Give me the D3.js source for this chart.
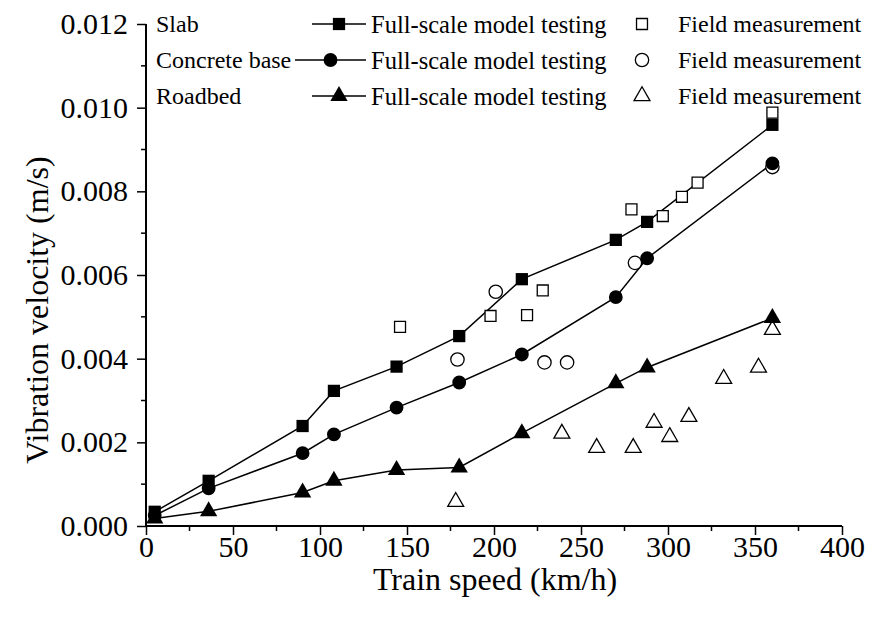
<!DOCTYPE html>
<html>
<head>
<meta charset="utf-8">
<script src="https://cdn.jsdelivr.net/npm/d3@7"></script>
<style>
  html, body { margin: 0; padding: 0; background: #fff; }
  svg { display: block; }
  text { font-family: "Liberation Serif", "Times New Roman", serif; fill: #000; }
</style>
</head>
<body>
<svg id="chart" width="882" height="625"></svg>
<script>
// Train speeds (km/h) of the full-scale model runs
const modelSpeed = [5, 36, 90, 108, 144, 180, 216, 270, 288, 360];

// Full-scale model testing, vibration velocity (m/s)
const slabModel     = [0.00034, 0.00108, 0.00239, 0.00323, 0.00381, 0.00454, 0.00590, 0.00684, 0.00727, 0.00959];
const concreteModel = [0.00025, 0.00090, 0.00174, 0.00219, 0.00283, 0.00343, 0.00410, 0.00547, 0.00640, 0.00867];
const roadbedModel  = [0.00018, 0.00035, 0.00080, 0.00108, 0.00134, 0.00140, 0.00222, 0.00341, 0.00379, 0.00497];

// Field measurements: speeds and velocities
const slabFieldSpeed     = [146, 198, 219, 228, 279, 297, 308, 317, 360];
const slabFieldValue     = [0.00476, 0.00502, 0.00504, 0.00563, 0.00757, 0.00741, 0.00787, 0.00821, 0.00988];
const concreteFieldSpeed = [179, 201, 229, 242, 281, 360];
const concreteFieldValue = [0.00398, 0.00560, 0.00391, 0.00391, 0.00629, 0.00858];
const roadbedFieldSpeed  = [178, 239, 259, 280, 292, 301, 312, 332, 352, 360];
const roadbedFieldValue  = [0.00058, 0.00221, 0.00187, 0.00187, 0.00247, 0.00213, 0.00261, 0.00352, 0.00379, 0.00469];

// Axis ticks
const xTicks = [0, 50, 100, 150, 200, 250, 300, 350, 400];
const yTicks = [0.000, 0.002, 0.004, 0.006, 0.008, 0.010, 0.012];

// Legend rows
const legendRows = ["Slab", "Concrete base", "Roadbed"];
const modelLabel = "Full-scale model testing";
const fieldLabel = "Field measurement";

const svg = d3.select("#chart");
const M = { left: 146, right: 842, top: 24, bottom: 526 };
const FONT = '"Liberation Serif", "Times New Roman", serif';

const x = d3.scaleLinear().domain([0, 400]).range([M.left, M.right]);
const y = d3.scaleLinear().domain([0, 0.012]).range([M.bottom, M.top]);

// ---- axes ----
const xMinor = d3.range(25, 400, 50);
const yMinor = d3.range(0.001, 0.012, 0.002);

const xAxis = svg.append("g").attr("transform", `translate(0,${M.bottom})`)
  .call(d3.axisBottom(x).tickValues(xTicks).tickFormat(d3.format("d")).tickSize(9).tickPadding(1));
xAxis.append("g").selectAll("line").data(xMinor).join("line")
  .attr("x1", d => x(d)).attr("x2", d => x(d)).attr("y1", 0).attr("y2", 5)
  .attr("stroke", "#000").attr("stroke-width", 1.5);

const yAxis = svg.append("g").attr("transform", `translate(${M.left},0)`)
  .call(d3.axisLeft(y).tickValues(yTicks).tickFormat(d3.format(".3f")).tickSize(9).tickPadding(9));
yAxis.append("g").selectAll("line").data(yMinor).join("line")
  .attr("y1", d => y(d)).attr("y2", d => y(d)).attr("x1", 0).attr("x2", -5)
  .attr("stroke", "#000").attr("stroke-width", 1.5);

[xAxis, yAxis].forEach(g => {
  g.attr("font-family", FONT);
  g.select(".domain").remove();
  g.selectAll(".tick line").attr("stroke", "#000").attr("stroke-width", 1.5);
  g.selectAll(".tick text").attr("font-size", 30);
});
// plain axis lines
svg.append("line").attr("x1", M.left).attr("x2", M.right).attr("y1", M.bottom).attr("y2", M.bottom)
  .attr("stroke", "#000").attr("stroke-width", 2);
svg.append("line").attr("x1", M.left).attr("x2", M.left).attr("y1", M.bottom).attr("y2", M.top)
  .attr("stroke", "#000").attr("stroke-width", 2);

// axis titles
svg.append("text").attr("x", (M.left + M.right) / 2 + 1).attr("y", 590)
  .attr("text-anchor", "middle").attr("font-size", 32).text("Train speed (km/h)");
svg.append("text").attr("transform", `translate(48,310) rotate(-90)`)
  .attr("text-anchor", "middle").attr("font-size", 32).text("Vibration velocity (m/s)");

// ---- markers ----
const symSquare = d3.symbol().type(d3.symbolSquare);
const symCircle = d3.symbol().type(d3.symbolCircle);
const symTri = d3.symbol().type(d3.symbolTriangle);

const line = d3.line().x(d => x(d[0])).y(d => y(d[1]));

const series = [
  { vals: slabModel, sym: symSquare, size: 150, fSpeed: slabFieldSpeed, fVal: slabFieldValue, fSize: 120 },
  { vals: concreteModel, sym: symCircle, size: 150, fSpeed: concreteFieldSpeed, fVal: concreteFieldValue, fSize: 140 },
  { vals: roadbedModel, sym: symTri, size: 130, fSpeed: roadbedFieldSpeed, fVal: roadbedFieldValue, fSize: 110 }
];

const plot = svg.append("g");
series.forEach(s => {
  const pts = modelSpeed.map((v, i) => [v, s.vals[i]]);
  plot.append("path").datum(pts).attr("d", line)
    .attr("fill", "none").attr("stroke", "#000").attr("stroke-width", 1.5);
});
series.forEach(s => {
  const fpts = s.fSpeed.map((v, i) => [v, s.fVal[i]]);
  plot.append("g").selectAll("path").data(fpts).join("path")
    .attr("d", s.sym.size(s.fSize))
    .attr("transform", d => `translate(${x(d[0])},${y(d[1])})`)
    .attr("fill", "#fff").attr("stroke", "#000").attr("stroke-width", 1.3);
});
series.forEach(s => {
  const pts = modelSpeed.map((v, i) => [v, s.vals[i]]);
  plot.append("g").selectAll("path").data(pts).join("path")
    .attr("d", s.sym.size(s.size))
    .attr("transform", d => `translate(${x(d[0])},${y(d[1])})`)
    .attr("fill", "#000");
});

// ---- legend ----
const legend = svg.append("g");
const rowY = [24, 60, 96];
const lineStart = [312, 295, 312];
legendRows.forEach((name, i) => {
  const s = series[i];
  const cy = rowY[i];
  legend.append("text").attr("x", 156).attr("y", cy).attr("dy", "0.35em")
    .attr("font-size", 24).text(name);
  legend.append("line").attr("x1", lineStart[i]).attr("x2", 366).attr("y1", cy).attr("y2", cy)
    .attr("stroke", "#000").attr("stroke-width", 1.5);
  legend.append("path").attr("d", s.sym.size(s.size))
    .attr("transform", `translate(${(lineStart[i] + 366) / 2},${cy})`).attr("fill", "#000");
  legend.append("text").attr("x", 371).attr("y", cy).attr("dy", "0.35em")
    .attr("font-size", 24.5).text(modelLabel);
  legend.append("path").attr("d", s.sym.size(s.fSize))
    .attr("transform", `translate(642,${cy})`)
    .attr("fill", "#fff").attr("stroke", "#000").attr("stroke-width", 1.3);
  legend.append("text").attr("x", 678).attr("y", cy).attr("dy", "0.35em")
    .attr("font-size", 24).text(fieldLabel);
});
</script>
</body>
</html>
